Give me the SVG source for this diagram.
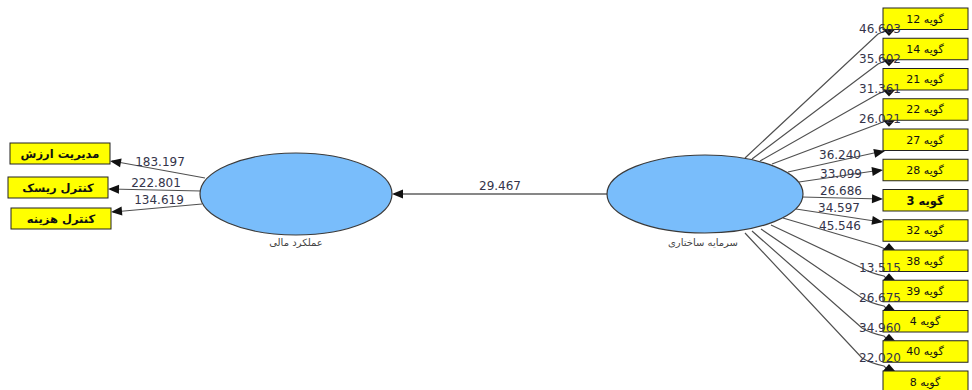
<svg xmlns="http://www.w3.org/2000/svg" xmlns:xlink="http://www.w3.org/1999/xlink" width="972" height="390" viewBox="0 0 972 390">
<style>
.bg{fill:#ffffff}
.ell{fill:#79bdfb;stroke:#3a3a3a;stroke-width:1.2}
.box{fill:#ffff00;stroke:#222;stroke-width:1}
.ln{stroke:#505050;stroke-width:1.2;fill:none}
.ah{fill:#111}
.num{font-family:"DejaVu Sans","Liberation Sans",sans-serif;font-size:12px;fill:#34344a;text-anchor:middle}
.bt{font-family:"DejaVu Sans","Liberation Sans",sans-serif;font-size:11px;fill:#111;text-anchor:middle;direction:rtl}
.bl{font-family:"DejaVu Sans","Liberation Sans",sans-serif;font-size:11.5px;font-weight:bold;fill:#111;text-anchor:middle;direction:rtl}
.el{font-family:"DejaVu Sans","Liberation Sans",sans-serif;font-size:10px;fill:#444;text-anchor:middle;direction:rtl}
</style>
<defs>
<path id="ah" class="ah" d="M0,0 L-11,-4.5 L-11,4.5 Z"/>
<path id="tdn" class="ah" d="M-6,0 L6,0 L0,6.5 Z"/>
<path id="tup" class="ah" d="M-6,0 L6,0 L0,-7 Z"/>
</defs>
<rect class="bg" x="0" y="0" width="972" height="390"/>
<g id="connectors">
  <line class="ln" x1="205" y1="178" x2="112" y2="161"/>
  <use xlink:href="#ah" href="#ah" transform="translate(110,161) rotate(190)"/>
  <line class="ln" x1="201" y1="191" x2="110" y2="189"/>
  <use xlink:href="#ah" href="#ah" transform="translate(108,189) rotate(181)"/>
  <line class="ln" x1="202" y1="204" x2="113" y2="212"/>
  <use xlink:href="#ah" href="#ah" transform="translate(111,212) rotate(175)"/>
  <line class="ln" x1="607" y1="194" x2="394" y2="194" style="stroke:#111"/>
  <use xlink:href="#ah" href="#ah" transform="translate(392,194) rotate(180)"/>
  <path class="ln" d="M745,158 L878,34 Q883,31 889,31"/>
  <use xlink:href="#tdn" href="#tdn" transform="translate(889,29.5)"/>
  <path class="ln" d="M752,159 L878,64 Q883,61 889,61"/>
  <use xlink:href="#tdn" href="#tdn" transform="translate(889,59.75)"/>
  <path class="ln" d="M760,161 L878,94 Q883,91 889,91"/>
  <use xlink:href="#tdn" href="#tdn" transform="translate(889,90)"/>
  <path class="ln" d="M772,164 L878,124 Q883,121 889,121"/>
  <use xlink:href="#tdn" href="#tdn" transform="translate(889,120.25)"/>
  <line class="ln" x1="788" y1="172" x2="883" y2="151"/>
  <use xlink:href="#ah" href="#ah" transform="translate(885,151) rotate(-12)"/>
  <line class="ln" x1="799" y1="182" x2="881" y2="170"/>
  <use xlink:href="#ah" href="#ah" transform="translate(883,170) rotate(-8)"/>
  <line class="ln" x1="802" y1="197" x2="881" y2="199"/>
  <use xlink:href="#ah" href="#ah" transform="translate(883,199) rotate(1.5)"/>
  <line class="ln" x1="796" y1="209" x2="881" y2="222"/>
  <use xlink:href="#ah" href="#ah" transform="translate(883,222) rotate(8.5)"/>
  <path class="ln" d="M783,218 L878,246 Q883,248 887,250"/>
  <use xlink:href="#tup" href="#tup" transform="translate(889,250)"/>
  <path class="ln" d="M771,225 L862,268 Q870,273 884,276 L888,280"/>
  <use xlink:href="#tup" href="#tup" transform="translate(889,280.25)"/>
  <path class="ln" d="M761,229 L862,298 Q870,303 884,306 L888,310"/>
  <use xlink:href="#tup" href="#tup" transform="translate(889,310.5)"/>
  <path class="ln" d="M752,231 L862,328 Q870,333 884,336 L888,340"/>
  <use xlink:href="#tup" href="#tup" transform="translate(889,340.75)"/>
  <path class="ln" d="M745,233 L862,358 Q870,363 884,366 L888,370"/>
  <use xlink:href="#tup" href="#tup" transform="translate(889,371)"/>
</g>
<g id="node-financial">
  <ellipse class="ell" cx="296" cy="194" rx="96" ry="41"/>
  <text class="el" x="296" y="246">عملکرد مالی</text>
</g>
<g id="node-structural">
  <ellipse class="ell" cx="705" cy="194" rx="98" ry="39"/>
  <text class="el" x="703" y="246">سرمایه ساختاری</text>
</g>
<g id="node-value"><rect class="box" x="10" y="143" width="100" height="21"/><text class="bl" x="60" y="158">مدیریت ارزش</text></g>
<g id="node-risk"><rect class="box" x="8" y="177" width="100" height="21"/><text class="bl" x="58" y="192">کنترل ریسک</text></g>
<g id="node-cost"><rect class="box" x="11" y="208" width="100" height="21"/><text class="bl" x="61" y="223">کنترل هزینه</text></g>
<g id="node-g12"><rect class="box" x="883" y="8" width="85" height="21.5"/><text class="bt" x="925" y="22.5">گویه 12</text></g>
<g id="node-g14"><rect class="box" x="883" y="38.25" width="85" height="21.5"/><text class="bt" x="925" y="52.75">گویه 14</text></g>
<g id="node-g21"><rect class="box" x="883" y="68.5" width="85" height="21.5"/><text class="bt" x="925" y="83">گویه 21</text></g>
<g id="node-g22"><rect class="box" x="883" y="98.75" width="85" height="21.5"/><text class="bt" x="925" y="113.25">گویه 22</text></g>
<g id="node-g27"><rect class="box" x="883" y="129" width="85" height="21.5"/><text class="bt" x="925" y="143.5">گویه 27</text></g>
<g id="node-g28"><rect class="box" x="883" y="159.25" width="85" height="21.5"/><text class="bt" x="925" y="173.75">گویه 28</text></g>
<g id="node-g3"><rect class="box" x="883" y="189.5" width="85" height="21.5"/><text class="bt" x="925" y="204.5" style="font-weight:bold;font-size:11.5px">گویه 3</text></g>
<g id="node-g32"><rect class="box" x="883" y="219.75" width="85" height="21.5"/><text class="bt" x="925" y="234.25">گویه 32</text></g>
<g id="node-g38"><rect class="box" x="883" y="250" width="85" height="21.5"/><text class="bt" x="925" y="264.5">گویه 38</text></g>
<g id="node-g39"><rect class="box" x="883" y="280.25" width="85" height="21.5"/><text class="bt" x="925" y="294.75">گویه 39</text></g>
<g id="node-g4"><rect class="box" x="883" y="310.5" width="85" height="21.5"/><text class="bt" x="925" y="325">گویه 4</text></g>
<g id="node-g40"><rect class="box" x="883" y="340.75" width="85" height="21.5"/><text class="bt" x="925" y="355.25">گویه 40</text></g>
<g id="node-g8"><rect class="box" x="883" y="371" width="85" height="21.5"/><text class="bt" x="925" y="385.5">گویه 8</text></g>
<g id="connector-labels">
  <text class="num" x="160" y="166">183.197</text>
  <text class="num" x="156" y="187">222.801</text>
  <text class="num" x="159" y="204">134.619</text>
  <text class="num" x="500" y="190">29.467</text>
  <text class="num" x="880" y="33">46.603</text>
  <text class="num" x="880" y="63">35.602</text>
  <text class="num" x="880" y="93">31.361</text>
  <text class="num" x="880" y="123">26.021</text>
  <text class="num" x="840" y="159">36.240</text>
  <text class="num" x="841" y="178">33.099</text>
  <text class="num" x="841" y="195">26.686</text>
  <text class="num" x="839" y="212">34.597</text>
  <text class="num" x="840" y="230">45.546</text>
  <text class="num" x="880" y="272">13.515</text>
  <text class="num" x="880" y="302">26.675</text>
  <text class="num" x="880" y="332">34.960</text>
  <text class="num" x="880" y="362">22.020</text>
</g>
</svg>
